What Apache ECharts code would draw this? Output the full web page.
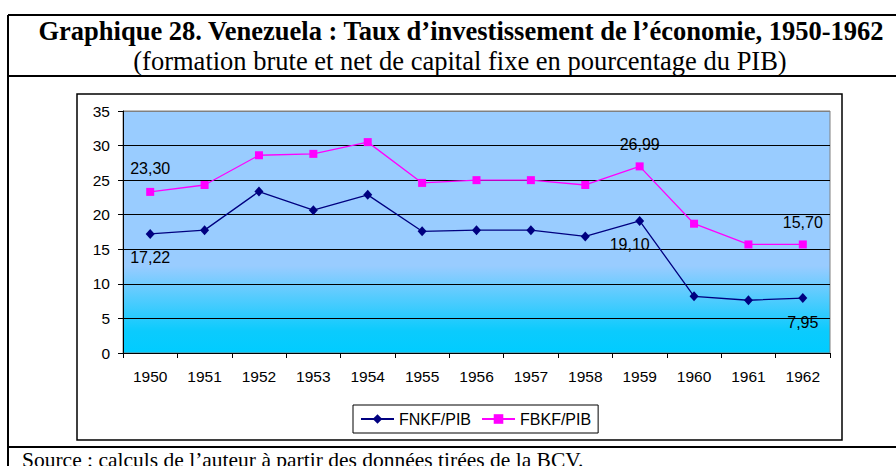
<!DOCTYPE html>
<html>
<head>
<meta charset="utf-8">
<script src="https://cdn.jsdelivr.net/npm/echarts@6/dist/echarts.min.js"></script>
<style>
html,body{margin:0;padding:0;background:#fff;}
#chart{width:896px;height:466px;}
</style>
</head>
<body>
<div id="chart"></div>
<script>
var years = ['1950','1951','1952','1953','1954','1955','1956','1957','1958','1959','1960','1961','1962'];
var fnkf = [17.22, 17.77, 23.35, 20.66, 22.87, 17.60, 17.77, 17.77, 16.86, 19.10, 8.20, 7.63, 7.95];
var fbkf = [23.30, 24.30, 28.60, 28.80, 30.50, 24.60, 25.00, 25.00, 24.30, 26.99, 18.70, 15.70, 15.70];
var yTicks = [0, 5, 10, 15, 20, 25, 30, 35];
var titleText = 'Graphique 28. Venezuela : Taux d\u2019investissement de l\u2019\u00e9conomie, 1950-1962';
var subtitleText = '(formation brute et net de capital fixe en pourcentage du PIB)';
var sourceText = 'Source : calculs de l\u2019auteur \u00e0 partir des donn\u00e9es tir\u00e9es de la BCV.';

// which points carry a value label, and where
var fnkfLabels = {0: {position: 'bottom', distance: 11, offset: [0, 0]}, 9: {position: 'bottom', distance: 11, offset: [-10, 0]}, 12: {position: 'bottom', distance: 11, offset: [0, 0]}};
var fbkfLabels = {0: {position: 'top', distance: 11, offset: [0, 0]}, 9: {position: 'top', distance: 10, offset: [0, 0]}, 12: {position: 'top', distance: 10, offset: [0, 0]}};

function fmt(v) { return v.toFixed(2).replace('.', ','); }
function buildData(values, labels) {
  return values.map(function (v, i) {
    var item = {value: v};
    if (labels[i]) {
      item.label = {
        show: true, position: labels[i].position, distance: labels[i].distance, offset: labels[i].offset,
        formatter: function (p) { return fmt(p.value); },
        color: '#000', fontFamily: 'Liberation Sans, Arial, sans-serif', fontSize: 16
      };
    }
    return item;
  });
}

var chart = echarts.init(document.getElementById('chart'), null, {renderer: 'svg'});
var sans = 'Liberation Sans, Arial, sans-serif';
var serif = '"Liberation Serif", "Times New Roman", serif';

var option = {
  animation: false,
  backgroundColor: '#fff',
  graphic: [
    // outer frame lines
    {type: 'line', shape: {x1: 8, y1: 15, x2: 896, y2: 15}, style: {stroke: '#000', lineWidth: 2}},
    {type: 'line', shape: {x1: 8, y1: 15, x2: 8, y2: 466}, style: {stroke: '#000', lineWidth: 2}},
    {type: 'line', shape: {x1: 8, y1: 76, x2: 896, y2: 76}, style: {stroke: '#000', lineWidth: 2}},
    {type: 'line', shape: {x1: 8, y1: 447, x2: 896, y2: 447}, style: {stroke: '#000', lineWidth: 2}},
    // chart area border
    {type: 'rect', shape: {x: 77, y: 94, width: 765, height: 346}, style: {fill: 'none', stroke: '#000', lineWidth: 1.5}},
    {type: 'text', style: {text: titleText, x: 461, y: 30.5, textAlign: 'center', textVerticalAlign: 'middle', font: 'bold 26.5px ' + serif, fill: '#000'}},
    {type: 'text', style: {text: subtitleText, x: 460, y: 60.5, textAlign: 'center', textVerticalAlign: 'middle', font: '26.5px ' + serif, fill: '#000'}},
    {type: 'text', style: {text: sourceText, x: 22, y: 460, textAlign: 'left', textVerticalAlign: 'middle', font: '21.5px ' + serif, fill: '#000'}}
  ],
  grid: {
    left: 123, top: 111, right: 66, bottom: 113,
    show: true,
    borderColor: '#808080', borderWidth: 1,
    backgroundColor: {
      type: 'linear', x: 0, y: 0, x2: 0, y2: 1,
      colorStops: [
        {offset: 0, color: '#99CCFF'},
        {offset: 0.64, color: '#99CCFF'},
        {offset: 0.91, color: '#0BCBFD'},
        {offset: 1, color: '#00CCFF'}
      ]
    }
  },
  legend: {
    left: 353, top: 405,
    padding: [6, 7],
    itemWidth: 33, itemHeight: 12, itemGap: 10,
    borderColor: '#000', borderWidth: 1,
    backgroundColor: '#fff',
    textStyle: {color: '#000', fontFamily: sans, fontSize: 16},
    data: ['FNKF/PIB', 'FBKF/PIB']
  },
  xAxis: {
    type: 'category',
    data: years,
    boundaryGap: true,
    axisLine: {show: true, lineStyle: {color: '#000', width: 1}},
    axisTick: {show: true, length: 5, interval: 0, alignWithLabel: false, lineStyle: {color: '#000'}},
    axisLabel: {color: '#000', fontFamily: sans, fontSize: 15.5, margin: 15, interval: 0},
    splitLine: {show: false}
  },
  yAxis: {
    type: 'value',
    min: yTicks[0], max: yTicks[yTicks.length - 1], interval: yTicks[1] - yTicks[0],
    axisLine: {show: true, lineStyle: {color: '#000', width: 1}},
    axisTick: {show: true, length: 5, lineStyle: {color: '#000'}},
    axisLabel: {color: '#000', fontFamily: sans, fontSize: 15.5, margin: 13},
    splitLine: {show: true, lineStyle: {color: ['#000', '#000', '#000', '#000', '#000', '#000', '#000', '#808080'], width: 1}}
  },
  series: [
    {
      name: 'FNKF/PIB', type: 'line',
      data: buildData(fnkf, fnkfLabels),
      symbol: 'diamond', symbolSize: [9, 10],
      lineStyle: {color: '#000080', width: 1.3},
      itemStyle: {color: '#000080'},
      z: 3
    },
    {
      name: 'FBKF/PIB', type: 'line',
      data: buildData(fbkf, fbkfLabels),
      symbol: 'rect', symbolSize: 8,
      lineStyle: {color: '#FF00FF', width: 1.3},
      itemStyle: {color: '#FF00FF'},
      z: 3
    }
  ]
};
chart.setOption(option);
</script>
</body>
</html>
